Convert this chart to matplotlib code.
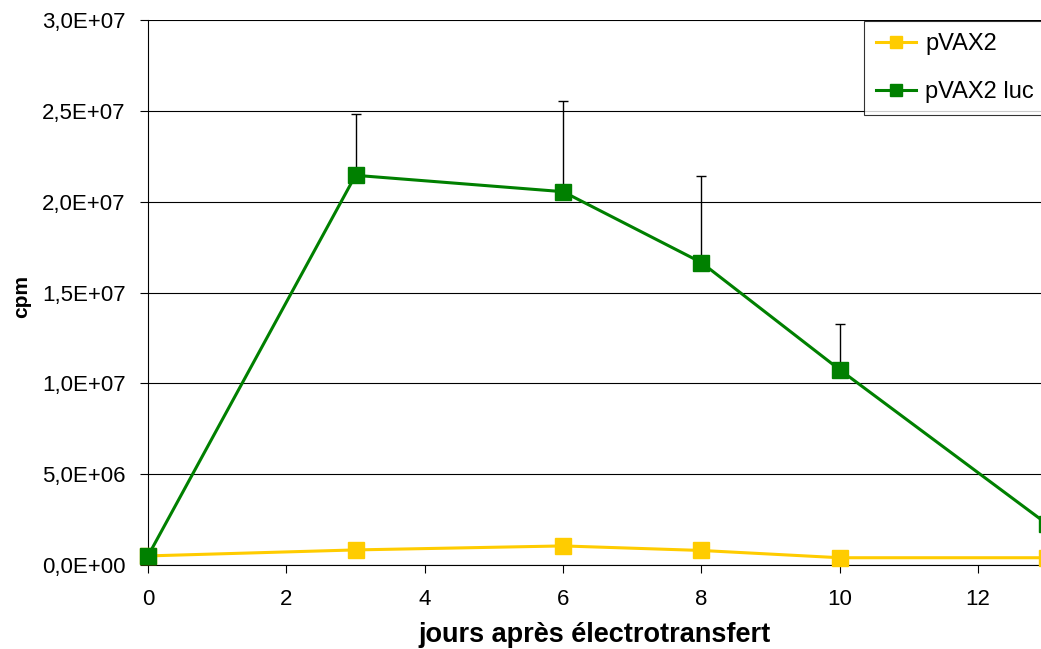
import matplotlib
matplotlib.use("Agg")
import matplotlib.pyplot as plt
from matplotlib.ticker import FuncFormatter, MultipleLocator

days = [0, 3, 6, 8, 10, 13]
pvax2 = [5.0e5, 8.3e5, 1.05e6, 8.0e5, 4.0e5, 4.0e5]
pvax2_luc = [5.0e5, 2.145e7, 2.055e7, 1.665e7, 1.075e7, 2.25e6]
luc_err = [0, 3.4e6, 5.0e6, 4.75e6, 2.5e6, 0]

plt.rcParams['font.family'] = ['Liberation Sans', 'DejaVu Sans']

fig = plt.figure(figsize=(10.41, 6.49), dpi=100)
W, H = 1041, 649
ax = fig.add_axes([148 / W, 1 - 565 / H, (1041 - 148) / W, (565 - 20) / H])

yellow = '#FFCC00'
green = '#008000'

ax.errorbar(days[1:5], pvax2_luc[1:5], yerr=[[0] * 4, luc_err[1:5]], fmt='none',
            ecolor='black', elinewidth=1.0, capsize=3.6, capthick=1.0, zorder=2)
l1, = ax.plot(days, pvax2, color=yellow, lw=2.2, marker='s', ms=11,
              mfc=yellow, mec=yellow, zorder=3, clip_on=False)
l2, = ax.plot(days, pvax2_luc, color=green, lw=2.2, marker='s', ms=11,
              mfc=green, mec=green, zorder=4, clip_on=False)

ax.set_xlim(0, 12.91)
ax.set_ylim(0, 3.0e7)
ax.xaxis.set_major_locator(MultipleLocator(2))
ax.yaxis.set_major_locator(MultipleLocator(5e6))
ax.yaxis.set_major_formatter(FuncFormatter(lambda v, p: f"{v:.1E}".replace('.', ',')))

ax.grid(axis='y', color='black', lw=0.8)
ax.set_axisbelow(True)
ax.spines['right'].set_visible(False)
ax.spines['top'].set_visible(False)
ax.spines['left'].set_color('black')
ax.spines['bottom'].set_color('black')
ax.spines['left'].set_linewidth(0.8)
ax.spines['bottom'].set_linewidth(0.8)
ax.tick_params(axis='both', direction='out', length=6, width=0.8,
               labelsize=16, colors='black')
ax.tick_params(axis='x', pad=11)
ax.tick_params(axis='y', pad=10)

ax.set_xlabel('jours après électrotransfert', fontsize=19.5, fontweight='bold')
ax.xaxis.set_label_coords(0.5, -(622 - 565) / 545)
ax.set_ylabel('cpm', fontsize=15, fontweight='bold')
ax.yaxis.set_label_coords((31 - 148) / 893, (565 - 297) / 545)

leg = fig.legend([l1, l2], ['pVAX2', 'pVAX2 luc'], loc='upper left',
                 bbox_to_anchor=(864 / W, 1 - 21 / H), fontsize=17,
                 frameon=True, fancybox=False, edgecolor='black',
                 handlelength=1.7, borderpad=0.5, labelspacing=1.1,
                 handletextpad=0.4, markerscale=0.8, borderaxespad=0)
leg.get_frame().set_linewidth(0.8)

fig.savefig('out.png', dpi=100)
